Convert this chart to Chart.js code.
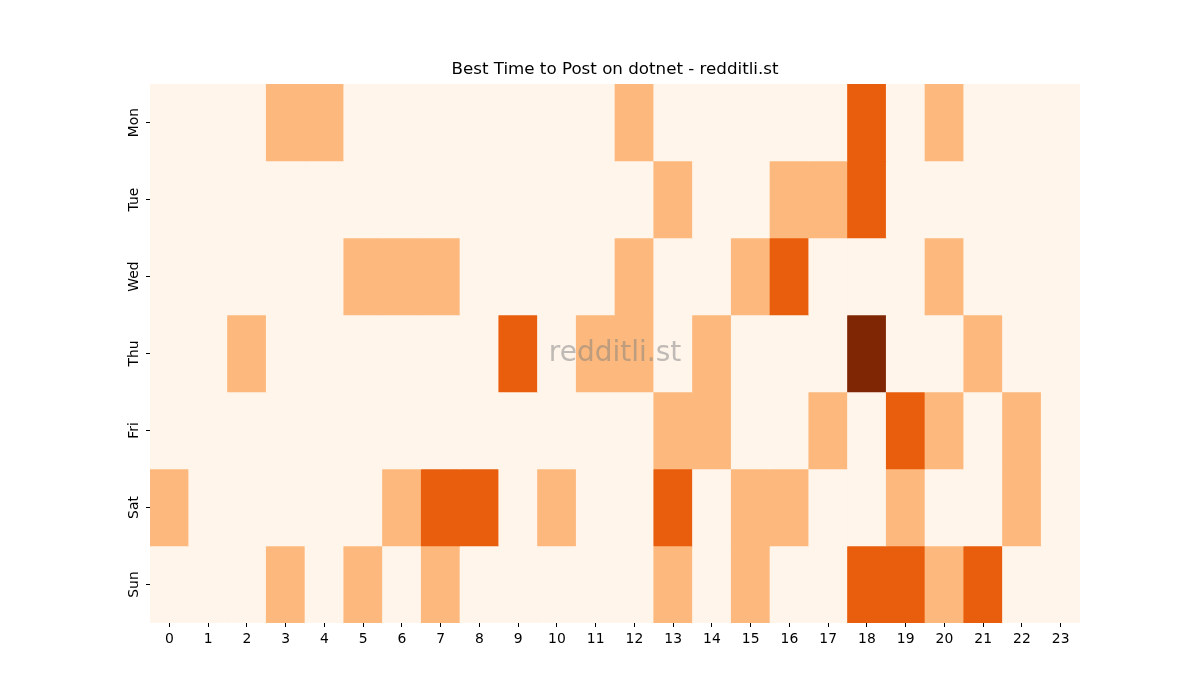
<!DOCTYPE html>
<html>
<head>
<meta charset="utf-8">
<script src="https://cdn.jsdelivr.net/npm/chart.js@4"></script>
<style>
  body { margin: 0; background: #fff; }
  #wrap { width: 1200px; height: 700px; }
</style>
</head>
<body>
<div id="wrap"><canvas id="heat" width="1200" height="700"></canvas></div>
<script>
// hours along the bottom, days down the side
const hours = ["0","1","2","3","4","5","6","7","8","9","10","11","12","13","14","15","16","17","18","19","20","21","22","23"];
const days = ["Mon", "Tue", "Wed", "Thu", "Fri", "Sat", "Sun"];

// post scores per hour, one array per day
const mon = [0,0,0,1,1,0,0,0,0,0,0,0,1,0,0,0,0,0,2,0,1,0,0,0];
const tue = [0,0,0,0,0,0,0,0,0,0,0,0,0,1,0,0,1,1,2,0,0,0,0,0];
const wed = [0,0,0,0,0,1,1,1,0,0,0,0,1,0,0,1,2,0,0,0,1,0,0,0];
const thu = [0,0,1,0,0,0,0,0,0,2,0,1,1,0,1,0,0,0,3,0,0,1,0,0];
const fri = [0,0,0,0,0,0,0,0,0,0,0,0,0,1,1,0,0,1,0,2,1,0,1,0];
const sat = [1,0,0,0,0,0,1,2,2,0,1,0,0,2,0,1,1,0,0,1,0,0,1,0];
const sun = [0,0,0,1,0,1,0,1,0,0,0,0,0,1,0,1,0,0,2,2,1,2,0,0];

const scores = [mon, tue, wed, thu, fri, sat, sun];

// Oranges colormap, one shade per score level
const shades = ["#fff5eb", "#fdb97d", "#e95e0d", "#7f2704"];

// each day is one stacked row of unit-height cells
const datasets = days.map(function(day, i) {
  return {
    label: day,
    data: hours.map(function() { return 1; }),
    backgroundColor: scores[i].map(function(v) { return shades[v]; }),
    borderWidth: 0,
    barPercentage: 1,
    categoryPercentage: 1
  };
});

// watermark in the middle of the plot
const watermark = {
  id: "watermark",
  afterDatasetsDraw: function(chart) {
    const a = chart.chartArea;
    const ctx = chart.ctx;
    ctx.save();
    ctx.font = "28px 'DejaVu Sans'";
    ctx.fillStyle = "rgba(128,128,128,0.5)";
    ctx.textAlign = "center";
    ctx.textBaseline = "middle";
    ctx.fillText("redditli.st", (a.left + a.right) / 2, (a.top + a.bottom) / 2);
    ctx.restore();
  }
};

Chart.defaults.font.family = "'DejaVu Sans'";
Chart.defaults.color = "#000";

new Chart("heat", {
  type: "bar",
  data: { labels: hours, datasets: datasets },
  options: {
    responsive: false,
    animation: false,
    layout: { padding: { left: 110, right: 120, top: 0, bottom: 47 } },
    plugins: {
      legend: { display: false },
      tooltip: { enabled: false },
      title: {
        display: true,
        fullSize: false,
        text: "Best Time to Post on dotnet - redditli.st",
        color: "#000",
        font: { size: 16.7, weight: "normal" },
        padding: { top: 60, bottom: 4 }
      }
    },
    scales: {
      x: {
        stacked: true,
        offset: true,
        border: { display: false },
        grid: { display: true, offset: false, drawOnChartArea: false, drawTicks: true, tickLength: 4, color: "#000" },
        ticks: { font: { size: 13.9 }, padding: 4, maxRotation: 0 },
        afterFit: function(s) { s.height = 30; }
      },
      y: {
        stacked: true,
        reverse: true,
        min: 0,
        max: 7,
        border: { display: false },
        grid: { display: true, drawOnChartArea: false, drawTicks: true, tickLength: 4, color: "#000" },
        afterBuildTicks: function(s) {
          s.ticks = days.map(function(d, i) { return { value: i + 0.5 }; });
        },
        ticks: {
          font: { size: 13.9 },
          padding: -4,
          crossAlign: "center",
          minRotation: 90,
          maxRotation: 90,
          callback: function(v) { return days[Math.floor(v)]; }
        },
        afterFit: function(s) { s.width = 40; }
      }
    }
  },
  plugins: [watermark]
});
</script>
</body>
</html>
